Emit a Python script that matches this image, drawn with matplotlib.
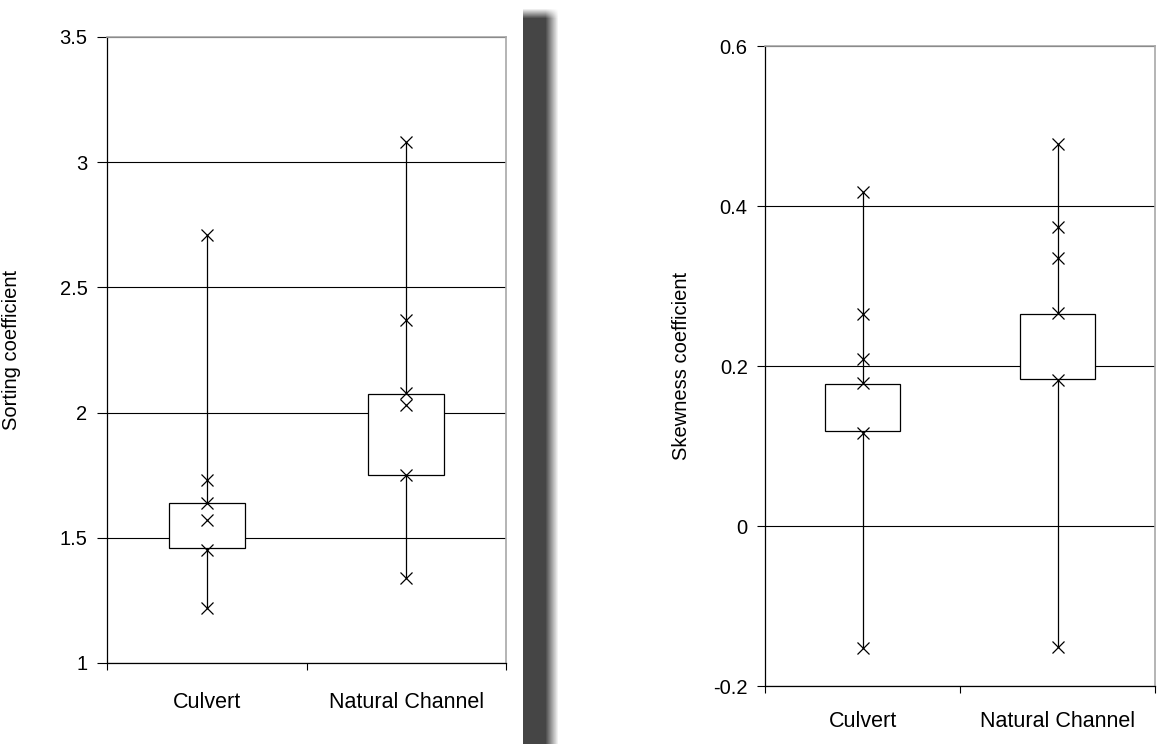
import numpy as np
import matplotlib.pyplot as plt
from matplotlib.ticker import FixedLocator

plt.rcParams['font.family'] = ['Liberation Sans', 'DejaVu Sans']

categories = ['Culvert', 'Natural Channel']

# sorting coefficient (left panel)
sort_points = [[2.71, 1.73, 1.64, 1.57, 1.45, 1.22],
               [3.08, 2.37, 2.08, 2.03, 1.75, 1.34]]
sort_q1 = [1.46, 1.75]
sort_q3 = [1.64, 2.075]

# skewness coefficient (right panel)
skew_points = [[0.418, 0.265, 0.209, 0.179, 0.116, -0.153],
               [0.477, 0.374, 0.335, 0.266, 0.182, -0.151]]
skew_q1 = [0.119, 0.184]
skew_q3 = [0.178, 0.265]

fig = plt.figure(figsize=(11.71, 7.44), dpi=100, facecolor='white')


def panel(rect, points, q1, q3, ylim, yticks, ylabel, lab_x, xpad, ytick_len):
    ax = fig.add_axes(rect)
    x = np.arange(len(categories))
    lo = [min(p) for p in points]
    hi = [max(p) for p in points]
    ax.vlines(x, lo, hi, color='black', lw=0.9, zorder=2)
    ax.bar(x, np.array(q3) - np.array(q1), bottom=q1, width=0.38,
           color='white', edgecolor='black', lw=0.9, zorder=3)
    for i, p in enumerate(points):
        ax.plot([x[i]] * len(p), p, ls='none', marker='x', ms=9,
                mew=0.9, color='black', zorder=4)
    ax.set_xlim(-0.5, len(categories) - 0.5)
    ax.set_ylim(*ylim)
    ax.set_yticks(yticks)
    ax.set_yticklabels([f'{t:g}' for t in yticks])
    ax.yaxis.grid(True, color='black', lw=0.8)
    ax.set_axisbelow(True)
    ax.xaxis.set_major_locator(FixedLocator([-0.5, 0.5, 1.5]))
    ax.xaxis.set_minor_locator(FixedLocator(list(x)))
    ax.set_xticklabels([], minor=False)
    ax.set_xticklabels(categories, minor=True)
    ax.tick_params(axis='x', which='major', direction='out', length=5,
                   width=0.8, color='black')
    ax.tick_params(axis='x', which='minor', length=0, pad=xpad, labelsize=15.5)
    ax.tick_params(axis='y', direction='out', length=ytick_len, width=0.8,
                   labelsize=14.5, pad=7)
    for s in ['top', 'right']:
        ax.spines[s].set_color('#a8a8a8')
        ax.spines[s].set_linewidth(1.2)
    for s in ['left', 'bottom']:
        ax.spines[s].set_color('black')
        ax.spines[s].set_linewidth(0.9)
    ax.set_ylabel(ylabel, fontsize=14.5)
    ax.yaxis.set_label_coords(lab_x, 0.5)
    return ax


panel([107 / 1171, 81 / 744, 399 / 1171, 626 / 744], sort_points, sort_q1,
      sort_q3, (1, 3.5), [1, 1.5, 2, 2.5, 3, 3.5], 'Sorting coefficient',
      -0.215, 21, 7)
panel([765 / 1171, 58 / 744, 390 / 1171, 640 / 744], skew_points, skew_q1,
      skew_q3, (-0.2, 0.6), [-0.2, 0, 0.2, 0.4, 0.6], 'Skewness coefficient',
      -0.19, 18, 5.5)

# grey divider bar with soft shadow edge
bar_ax = fig.add_axes([523 / 1171, 0, 40 / 1171, 736 / 744])
w, h = 40, 736
cols = np.ones(w)
cols[:22] = 0.27
cols[22:36] = np.linspace(0.27, 1.0, 14)
img = np.tile(cols, (h, 1))
top = np.clip(np.arange(h) / 10.0, 0, 1)[:, None]
img = 1 - (1 - img) * top
bar_ax.imshow(img, cmap='gray', vmin=0, vmax=1, aspect='auto',
              interpolation='bilinear')
bar_ax.axis('off')

fig.savefig('out.png', dpi=100, facecolor='white')
